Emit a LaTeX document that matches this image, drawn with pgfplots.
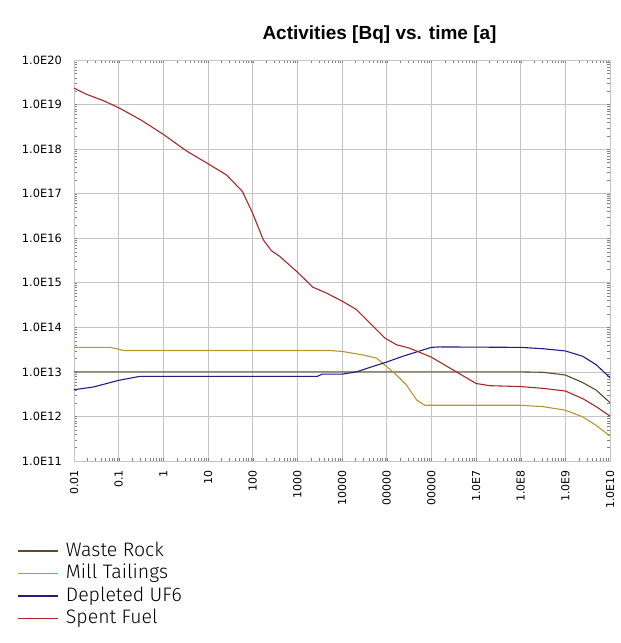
\documentclass[border=0pt]{standalone}
\usepackage{fontspec}
\setmainfont{Liberation Sans}
\newfontfamily\tickfont{DejaVu Sans}
\newfontfamily\legfont{Fira Sans}[UprightFont=* Light]
\usepackage{pgfplots}
\pgfplotsset{compat=1.18}

\definecolor{wasterock}{HTML}{5C4A2A}
\definecolor{milltail}{HTML}{B8962E}
\definecolor{depluf}{HTML}{1F1F80}
\definecolor{spentfuel}{HTML}{A82828}
\definecolor{gridgray}{HTML}{C4C4C4}

\begin{document}
\begin{tikzpicture}
\useasboundingbox (-74bp,-182bp) rectangle (547bp,461bp);
\begin{axis}[
  at={(0,0)}, anchor=south west,
  scale only axis, width=536bp, height=401bp,
  xmode=log, ymode=log,
  xmin=0.01, xmax=1e10, ymin=1e11, ymax=1e20,
  xtick={1e-2,1e-1,1,10,100,1000,1e4,1e5,1e6,1e7,1e8,1e9,1e10},
  xticklabels={0.01,0.1,1,10,100,1000,10000,00000,00000,1.0E7,1.0E8,1.0E9,1.0E10},
  ytick={1e11,1e12,1e13,1e14,1e15,1e16,1e17,1e18,1e19,1e20},
  yticklabels={1.0E11,1.0E12,1.0E13,1.0E14,1.0E15,1.0E16,1.0E17,1.0E18,1.0E19,1.0E20},
  minor xtick={}, minor ytick={},
  grid=major,
  major grid style={gridgray, line width=0.6bp},
  axis line style={gridgray, line width=0.6bp},
  major tick length=0pt,
  xticklabel style={rotate=90, anchor=east, inner sep=0pt,
    font=\tickfont\fontsize{11bp}{12bp}\selectfont},
  yticklabel style={anchor=east, inner sep=0pt,
    font=\tickfont\fontsize{11.4bp}{12bp}\selectfont},
  xticklabel shift=9bp,
  yticklabel shift=12bp,
  title={Activities [Bq] vs. time [a]},
  title style={at={(0.57,1)}, anchor=base, yshift=15bp, inner sep=0pt,
    font=\bfseries\fontsize{19bp}{22bp}\selectfont},
  legend style={at={(-0.1064,-0.205)}, anchor=north west, draw=none, fill=none,
    inner sep=0pt, row sep=5.5bp,
    font=\legfont\fontsize{19.5bp}{20bp}\selectfont,
    nodes={inner xsep=7bp, inner ysep=0pt, text height=13bp, text depth=4bp}},
  legend cell align=left,
  legend image code/.code={\draw[#1, line width=1.8bp] (0bp,1bp) -- (40bp,1bp);},
  every axis plot/.append style={line width=1.1bp},
]
% Waste Rock
\addplot[color=wasterock] coordinates {
  (0.01,1e13) (1e3,1e13) (1e6,1e13) (1e8,1e13) (3.16e8,9.8e12)
  (1e9,8.5e12) (2.45e9,5.75e12) (4.9e9,3.9e12) (1e10,2.04e12)
};
% Mill Tailings
\addplot[color=milltail] coordinates {
  (0.01,3.55e13) (0.065,3.55e13) (0.09,3.3e13) (0.13,3.02e13) (1,3.02e13)
  (100,3.02e13) (5400,3.02e13) (1e4,2.88e13) (2.95e4,2.4e13) (5.9e4,2.04e13)
  (1e5,1.32e13) (1.66e5,8.5e12) (2.75e5,5.13e12) (4.7e5,2.34e12)
  (7.1e5,1.78e12) (1e6,1.78e12) (1e8,1.78e12) (3.16e8,1.66e12)
  (1e9,1.38e12) (2.45e9,9.8e11) (4.9e9,6.3e11) (1e10,3.63e11)
};
% Depleted UF6
\addplot[color=depluf] coordinates {
  (0.01,3.98e12) (0.027,4.57e12) (0.1,6.46e12) (0.3,7.94e12) (1,7.94e12)
  (100,7.94e12) (2800,7.94e12) (3600,8.9e12) (1e4,8.9e12) (2.1e4,1e13)
  (4.2e4,1.26e13) (1e5,1.66e13) (2.3e5,2.24e13) (5.5e5,2.95e13)
  (1e6,3.55e13) (1.5e6,3.63e13) (1e8,3.55e13) (3.16e8,3.31e13)
  (1e9,2.95e13) (2.45e9,2.24e13) (4.9e9,1.45e13) (1e10,7.4e12)
};
% Spent Fuel
\addplot[color=spentfuel] coordinates {
  (0.01,2.34e19) (0.019,1.7e19) (0.045,1.23e19) (0.1,8.5e18)
  (0.32,4.47e18) (1,2.14e18) (3.3,9.1e17) (10,4.7e17) (26,2.63e17)
  (59,1.12e17) (100,3.63e16) (174,9.1e15) (263,5.25e15) (407,3.89e15)
  (1000,1.74e15) (2240,7.94e14) (4470,5.89e14) (1e4,3.89e14)
  (2.1e4,2.51e14) (5e4,1.05e14) (9.1e4,5.75e13) (1.66e5,4.07e13)
  (3.3e5,3.39e13) (1e6,2.14e13) (3.1e6,1.1e13) (1e7,5.5e12)
  (2.04e7,4.9e12) (1e8,4.68e12) (3.16e8,4.27e12) (1e9,3.72e12)
  (2.45e9,2.51e12) (4.9e9,1.66e12) (1e10,1.02e12)
};
\legend{Waste Rock, Mill Tailings, Depleted UF6, Spent Fuel}
\end{axis}
\end{tikzpicture}
\end{document}
